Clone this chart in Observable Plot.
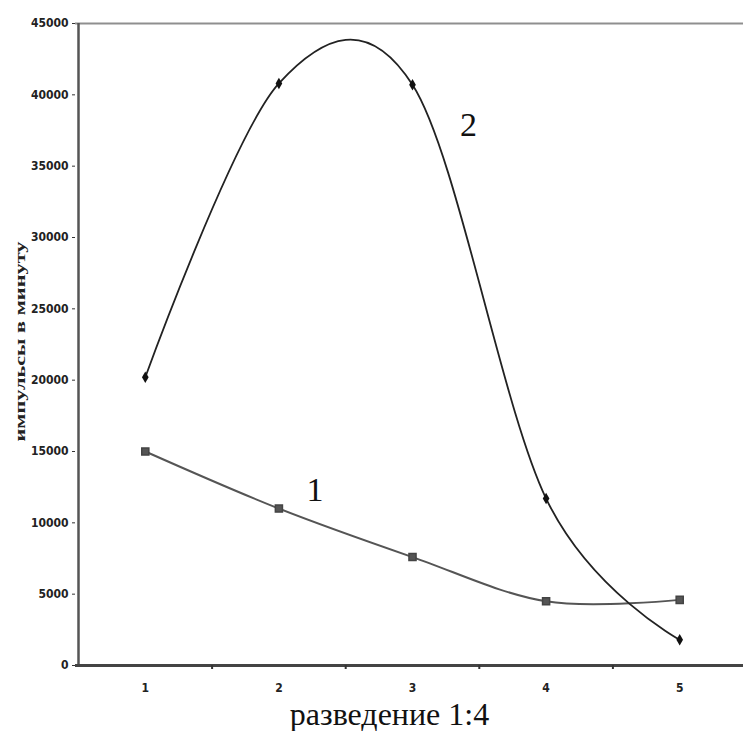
<!DOCTYPE html>
<html>
<head>
<meta charset="utf-8">
<script src="https://cdn.jsdelivr.net/npm/d3@7"></script>
<script src="https://cdn.jsdelivr.net/npm/@observablehq/plot@0.6"></script>
<style>
  body { margin: 0; background: #fff; }
  #chart svg { display: block; }
</style>
</head>
<body>
<div id="chart"></div>
<script>
const dilutions = [1, 2, 3, 4, 5];
const series1 = [15000, 11000, 7600, 4500, 4600];
const series2 = [20200, 40800, 40700, 11700, 1800];
const yTicks = [0, 5000, 10000, 15000, 20000, 25000, 30000, 35000, 40000, 45000];
const bandEdges = [1.5, 2.5, 3.5, 4.5];
const seriesLabels = ["1", "2"];
const seriesLabelX = [2.27, 3.42];
const seriesLabelY = [12300, 37900];
const xTitle = "разведение 1:4";
const yTitle = "импульсы в минуту";

const d1 = dilutions.map((x, i) => ({x, y: series1[i]}));
const d2 = dilutions.map((x, i) => ({x, y: series2[i]}));
const labels = seriesLabels.map((t, i) => ({t, x: seriesLabelX[i], y: seriesLabelY[i]}));

const tickFont = "'Liberation Sans Narrow', 'DejaVu Sans Condensed', sans-serif";
const serif = "'Liberation Serif', 'DejaVu Serif', serif";

const chart = Plot.plot({
  width: 743,
  height: 731,
  marginLeft: 75,
  marginTop: 23,
  marginBottom: 66,
  marginRight: 0,
  style: {background: "#fff"},
  x: {type: "linear", domain: [0.5, 5.5], range: [78, 746]},
  y: {domain: [0, 45000], range: [665, 23]},
  marks: [
    Plot.ruleY([45000], {stroke: "#8f8f8f", strokeWidth: 2}),
    Plot.ruleX([0.5], {x: () => 0.5, stroke: "#555", strokeWidth: 2.5}),
    Plot.ruleY([0], {stroke: "#444", strokeWidth: 3}),
    Plot.axisY(yTicks, {
      tickSize: 3, tickPadding: 4, stroke: "#333",
      tickFormat: d => String(d),
      fontFamily: tickFont, fontSize: 12, fontWeight: "bold", fill: "#222",
      label: null
    }),
    Plot.axisX(dilutions, {
      tickSize: 0, tickPadding: 18, fontFamily: tickFont, fontSize: 12,
      fontWeight: "bold", fill: "#222", label: null, tickFormat: d => String(d)
    }),
    Plot.axisX(bandEdges, {tickSize: 4, text: null, stroke: "#333", strokeWidth: 2, label: null}),
    Plot.line(d1, {x: "x", y: "y", curve: "cardinal", tension: 0, stroke: "#555", strokeWidth: 2}),
    Plot.line(d2, {x: "x", y: "y", curve: "cardinal", tension: 0, stroke: "#222", strokeWidth: 1.8}),
    Plot.dot(d1, {x: "x", y: "y", symbol: "square", r: 4, fill: "#555", stroke: "#444"}),
    Plot.dot(d2, {x: "x", y: "y", symbol: "diamond", r: 3.5, fill: "#111"}),
    Plot.text(labels, {x: "x", y: "y", text: "t", fontFamily: serif, fontSize: 34, fill: "#111"}),
    Plot.text([xTitle], {frameAnchor: "bottom", lineAnchor: "bottom", dx: -20, dy: 59, fontFamily: serif, fontSize: 32, fill: "#111"}),
    Plot.text([yTitle], {frameAnchor: "left", textAnchor: "middle", dx: -55, dy: -3, rotate: -90, fontFamily: serif, fontSize: 14, fontWeight: "bold", fill: "#222", className: "ytitle"})
  ]
});
const yt = chart.querySelector(".ytitle text");
if (yt) { yt.setAttribute("textLength", "200"); yt.setAttribute("lengthAdjust", "spacingAndGlyphs"); }
document.getElementById("chart").appendChild(chart);
</script>
</body>
</html>
